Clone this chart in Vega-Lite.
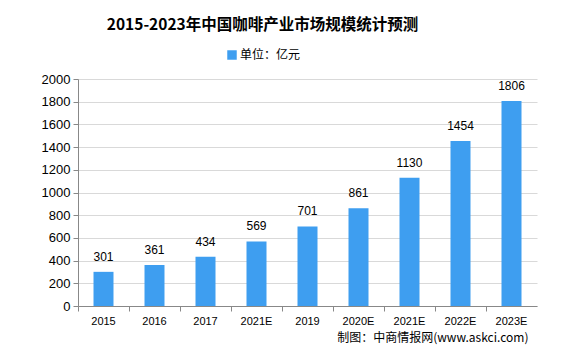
{
  "$schema": "https://vega.github.io/schema/vega-lite/v6.json",
  "width": 459,
  "height": 227,
  "autosize": {"type": "none"},
  "padding": {"left": 78, "top": 79, "right": 32, "bottom": 48},
  "background": "white",
  "title": {
    "text": "2015-2023年中国咖啡产业市场规模统计预测",
    "font": "Noto Sans CJK SC",
    "fontSize": 15.5,
    "fontWeight": "bold",
    "color": "#000000",
    "anchor": "middle",
    "frame": "group",
    "offset": 16,
    "dx": -45
  },
  "data": {
    "values": [
      {"year": "2015", "value": 301, "series": "单位：亿元"},
      {"year": "2016", "value": 361, "series": "单位：亿元"},
      {"year": "2017", "value": 434, "series": "单位：亿元"},
      {"year": "2021E ", "value": 569, "series": "单位：亿元"},
      {"year": "2019", "value": 701, "series": "单位：亿元"},
      {"year": "2020E", "value": 861, "series": "单位：亿元"},
      {"year": "2021E", "value": 1130, "series": "单位：亿元"},
      {"year": "2022E", "value": 1454, "series": "单位：亿元"},
      {"year": "2023E", "value": 1806, "series": "单位：亿元"}
    ]
  },
  "encoding": {
    "x": {
      "field": "year",
      "type": "ordinal",
      "sort": null,
      "scale": {"paddingInner": 0, "paddingOuter": 0},
      "axis": {
        "title": "制图：中商情报网(www.askci.com)",
        "titleFont": "Noto Sans CJK SC",
        "titleFontSize": 12,
        "titleFontWeight": "normal",
        "titleColor": "#000000",
        "titleAnchor": "end",
        "titleAlign": "right",
        "titlePadding": 6,
        "titleX": 450,
        "labelAngle": 0,
        "labelFont": "Liberation Sans",
        "labelFontSize": 11,
        "labelColor": "#000000",
        "labelPadding": 4,
        "domainColor": "#888888",
        "tickColor": "#888888",
        "tickSize": 5,
        "bandPosition": 0,
        "ticks": true,
        "grid": false
      }
    },
    "y": {
      "field": "value",
      "type": "quantitative",
      "scale": {"domain": [0, 2000], "nice": false},
      "axis": {
        "title": null,
        "format": "d",
        "values": [0, 200, 400, 600, 800, 1000, 1200, 1400, 1600, 1800, 2000],
        "labelFont": "Liberation Sans",
        "labelFontSize": 13,
        "labelColor": "#000000",
        "labelPadding": 3,
        "domainColor": "#888888",
        "tickColor": "#888888",
        "tickSize": 5,
        "gridColor": "#d9d9d9",
        "grid": true
      }
    }
  },
  "layer": [
    {
      "mark": {"type": "bar", "size": 20},
      "encoding": {
        "color": {
          "field": "series",
          "type": "nominal",
          "scale": {"range": ["#3e9ef0"]},
          "legend": {
            "title": null,
            "orient": "none",
            "legendX": 148,
            "legendY": -30,
            "symbolType": "square",
            "symbolSize": 90,
            "symbolStrokeWidth": 0,
            "labelFont": "Noto Sans CJK SC",
            "labelFontSize": 12,
            "labelColor": "#000000",
            "labelOffset": 2
          }
        }
      }
    },
    {
      "mark": {"type": "text", "baseline": "bottom", "dy": -8, "font": "Liberation Sans", "fontSize": 12, "color": "#000000"},
      "encoding": {"text": {"field": "value", "type": "quantitative", "format": "d"}}
    }
  ],
  "config": {"view": {"stroke": null}}
}
